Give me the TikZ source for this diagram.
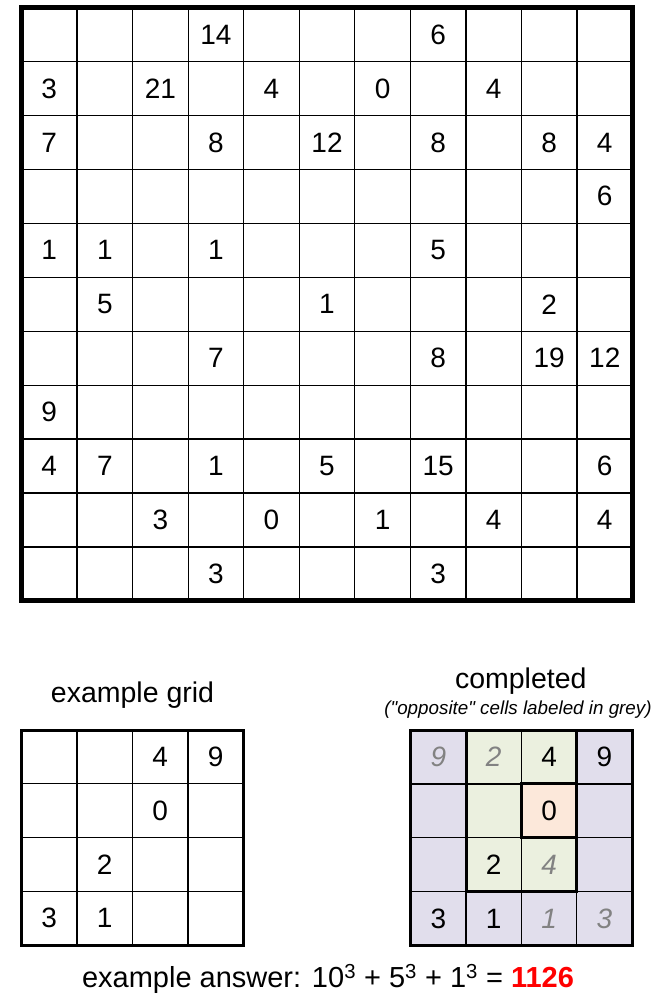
\documentclass[tikz,border=0pt]{standalone}
\usepackage{fontspec}
\setmainfont{Liberation Sans}
\newfontfamily\plainsans{Liberation Sans}
\definecolor{lav}{RGB}{225,222,236}
\definecolor{grn}{RGB}{235,240,223}
\definecolor{pch}{RGB}{252,232,218}
\definecolor{gry}{RGB}{130,130,130}
\begin{document}
\begin{tikzpicture}[x=1pt,y=-1pt,
  num/.style={font=\fontsize{28}{30}\selectfont, inner sep=0pt, anchor=center},
  gnum/.style={num, font=\fontsize{28}{30}\selectfont\itshape, text=gry},
  thinl/.style={line width=1.3pt, black},
  border/.style={line width=3pt, black},
  title/.style={font=\fontsize{28.5}{30}\selectfont, inner sep=0pt, anchor=base}]
\useasboundingbox (0,0) rectangle (658,994);

% ---------- main grid ----------
\def\mx{21.5}\def\my{7.5}\def\mw{55.55}\def\mh{53.95}
\foreach \i in {1,...,10}{
  \draw[thinl] ({\mx+\i*\mw},\my) -- ({\mx+\i*\mw},{\my+11*\mh});
  \draw[thinl] (\mx,{\my+\i*\mh}) -- ({\mx+11*\mw},{\my+\i*\mh});
}
\draw[line width=5pt] (\mx,\my) rectangle ({\mx+11*\mw},{\my+11*\mh});
\foreach \r/\c/\t in {0/3/14, 0/7/6,
  1/0/3, 1/2/21, 1/4/4, 1/6/0, 1/8/4,
  2/0/7, 2/3/8, 2/5/12, 2/7/8, 2/9/8, 2/10/4,
  3/10/6,
  4/0/1, 4/1/1, 4/3/1, 4/7/5,
  5/1/5, 5/5/1, 5/9/2,
  6/3/7, 6/7/8, 6/9/19, 6/10/12,
  7/0/9,
  8/0/4, 8/1/7, 8/3/1, 8/5/5, 8/7/15, 8/10/6,
  9/2/3, 9/4/0, 9/6/1, 9/8/4, 9/10/4,
  10/3/3, 10/7/3}
  \node[num] (m-\r-\c) at ({\mx+(\c+0.5)*\mw},{\my+(\r+0.5)*\mh}) {\t};

% ---------- example grid ----------
\def\ex{21.5}\def\ey{730}\def\ew{55.5}\def\eh{53.75}
\node[title] (extitle) at (132.5,702.5) {example grid};
\foreach \i in {1,2,3}{
  \draw[thinl] ({\ex+\i*\ew},\ey) -- ({\ex+\i*\ew},{\ey+4*\eh});
  \draw[thinl] (\ex,{\ey+\i*\eh}) -- ({\ex+4*\ew},{\ey+\i*\eh});
}
\draw[border] (\ex,\ey) rectangle ({\ex+4*\ew},{\ey+4*\eh});
\foreach \r/\c/\t in {0/2/4, 0/3/9, 1/2/0, 2/1/2, 3/0/3, 3/1/1}
  \node[num] (e-\r-\c) at ({\ex+(\c+0.5)*\ew},{\ey+(\r+0.5)*\eh}) {\t};

% ---------- completed grid ----------
\def\cx{410.7}\def\cy{730}\def\cw{55.35}\def\ch{53.85}
\node[title] (ctitle) at (520.8,688.5) {completed};
\node[inner sep=0pt, anchor=base, font=\plainsans\fontsize{18.8}{20}\selectfont\itshape] (csub) at (518,714) {("opposite" cells labeled in grey)};
\fill[lav] (\cx,\cy) rectangle ({\cx+4*\cw},{\cy+4*\ch});
\fill[grn] ({\cx+1*\cw},\cy) rectangle ({\cx+3*\cw},{\cy+3*\ch});
\fill[pch] ({\cx+2*\cw},{\cy+1*\ch}) rectangle ({\cx+3*\cw},{\cy+2*\ch});
\foreach \i in {1,2,3}{
  \draw[thinl] ({\cx+\i*\cw},\cy) -- ({\cx+\i*\cw},{\cy+4*\ch});
  \draw[thinl] (\cx,{\cy+\i*\ch}) -- ({\cx+4*\cw},{\cy+\i*\ch});
}
\draw[border] ({\cx+1*\cw},\cy) -- ({\cx+1*\cw},{\cy+3*\ch}) -- ({\cx+3*\cw},{\cy+3*\ch}) -- ({\cx+3*\cw},\cy);
\draw[border] ({\cx+2*\cw},{\cy+1*\ch}) rectangle ({\cx+3*\cw},{\cy+2*\ch});
\draw[border] (\cx,\cy) rectangle ({\cx+4*\cw},{\cy+4*\ch});
\foreach \r/\c/\t in {0/2/4, 0/3/9, 1/2/0, 2/1/2, 3/0/3, 3/1/1}
  \node[num] (c-\r-\c) at ({\cx+(\c+0.5)*\cw},{\cy+(\r+0.5)*\ch}) {\t};
\foreach \r/\c/\t in {0/0/9, 0/1/2, 2/2/4, 3/2/1, 3/3/3}
  \node[gnum] (c-\r-\c) at ({\cx+(\c+0.5)*\cw},{\cy+(\r+0.5)*\ch}) {\t};

% ---------- answer ----------
\node[title, font=\fontsize{29}{30}\selectfont] (answer) at (328,987.5) {example answer: 10\textsuperscript{3} + 5\textsuperscript{3} + 1\textsuperscript{3} = \textcolor{red}{\textbf{1126}}};
\end{tikzpicture}
\end{document}
